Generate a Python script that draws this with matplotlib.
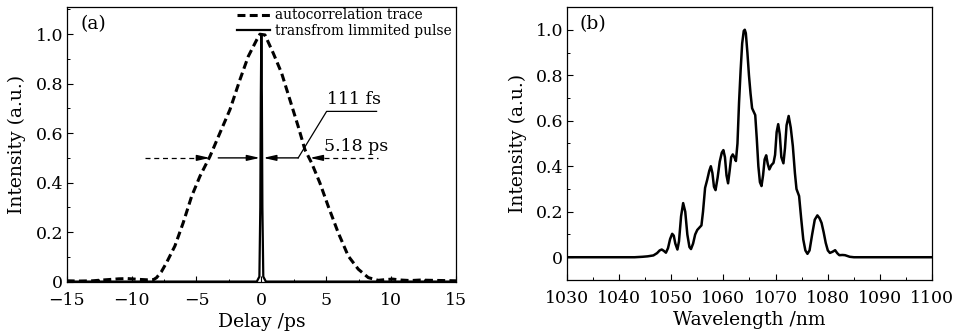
import matplotlib
matplotlib.use("Agg")
import matplotlib.pyplot as plt
from matplotlib.ticker import MultipleLocator

plt.rcParams['font.family'] = ['DejaVu Serif']

# ---- panel (a) data ----
delay = [-15, -14, -13, -12.3, -11.5, -11, -10.3, -9.5, -8.8, -8.3, -8.07, -7.7, -7.3,
         -6.66, -6.02, -5.37, -4.73, -3.96, -3.19, -2.42, -1.65, -1.01, -0.36, -0.11,
         0.28, 0.92, 1.56, 2.2, 2.84, 3.36, 3.87, 4.51, 5.15, 5.92, 6.7, 7.47, 8.24,
         9.0, 9.6, 10.1, 10.8, 11.5, 12.2, 13, 14, 15]
autocorr = [0.003, 0.002, 0.003, 0.006, 0.009, 0.011, 0.012, 0.009, 0.007, 0.008, 0.016,
            0.04, 0.077, 0.144, 0.238, 0.345, 0.426, 0.506, 0.601, 0.695, 0.816, 0.91,
            0.977, 1.0, 0.997, 0.923, 0.843, 0.735, 0.627, 0.533, 0.48, 0.399, 0.305,
            0.198, 0.103, 0.05, 0.016, 0.005, 0.008, 0.01, 0.006, 0.004, 0.006, 0.005,
            0.004, 0.003]
tl_delay = [-15, -0.6, -0.35, -0.25, -0.15, -0.08, -0.04, 0, 0.04, 0.08, 0.15, 0.25,
            0.35, 0.6, 15]
tl_pulse = [0, 0, 0.0, 0.01, 0.02, 0.3, 0.75, 1.0, 0.75, 0.3, 0.02, 0.01, 0.0, 0, 0]
half_max = 0.5
fwhm_ac_label = "5.18 ps"
fwhm_tl_label = "111 fs"
legend_labels = ["autocorrelation trace", "transfrom limmited pulse"]

# ---- panel (b) data ----
wavelength = [1030, 1043, 1044.5, 1045.5, 1046.6, 1047.3, 1047.8, 1048.2, 1048.6, 1049.0,
              1049.4, 1049.8, 1050.2, 1050.5, 1050.8, 1051.2, 1051.5, 1051.9, 1052.3,
              1052.7, 1053.1, 1053.5, 1053.8, 1054.2, 1054.6, 1055.0, 1055.4, 1055.8,
              1056.1, 1056.5, 1056.9, 1057.3, 1057.6, 1057.9, 1058.2, 1058.5, 1058.9,
              1059.3, 1059.7, 1060.0, 1060.3, 1060.6, 1060.9, 1061.2, 1061.5, 1061.8,
              1062.1, 1062.4, 1062.7, 1063.0, 1063.3, 1063.6, 1063.9, 1064.1, 1064.3,
              1064.6, 1064.9, 1065.2, 1065.5, 1065.8, 1066.1, 1066.4, 1066.7, 1067.0,
              1067.3, 1067.6, 1067.9, 1068.2, 1068.5, 1068.8, 1069.2, 1069.6, 1069.9,
              1070.2, 1070.5, 1070.8, 1071.1, 1071.5, 1071.8, 1072.1, 1072.5, 1072.9,
              1073.3, 1073.7, 1074.0, 1074.5, 1074.9, 1075.3, 1075.7, 1076.1, 1076.5,
              1077.0, 1077.5, 1078.0, 1078.4, 1078.8, 1079.2, 1079.6, 1080.0, 1080.4,
              1080.9, 1081.4, 1081.8, 1082.2, 1082.8, 1083.3, 1084.2, 1085, 1100]
spectrum = [0, 0, 0.002, 0.004, 0.008, 0.018, 0.03, 0.034, 0.028, 0.02,
            0.04, 0.08, 0.103, 0.095, 0.06, 0.034, 0.07, 0.18, 0.238,
            0.2, 0.1, 0.045, 0.036, 0.06, 0.1, 0.12, 0.13, 0.14,
            0.2, 0.305, 0.34, 0.38, 0.40, 0.37, 0.31, 0.295, 0.35,
            0.42, 0.46, 0.471, 0.44, 0.36, 0.325, 0.38, 0.44, 0.452,
            0.44, 0.423, 0.5, 0.68, 0.82, 0.94, 0.995, 1.0, 0.985,
            0.9, 0.8, 0.72, 0.655, 0.64, 0.625, 0.52, 0.4, 0.33,
            0.313, 0.36, 0.43, 0.448, 0.41, 0.386, 0.405, 0.415, 0.45,
            0.55, 0.585, 0.54, 0.44, 0.413, 0.48, 0.58, 0.621, 0.57,
            0.489, 0.37, 0.3, 0.269, 0.17, 0.078, 0.03, 0.015, 0.03,
            0.1, 0.165, 0.184, 0.172, 0.151, 0.11, 0.063, 0.03, 0.019,
            0.024, 0.031, 0.018, 0.009, 0.01, 0.009, 0.002, 0, 0]

fig = plt.figure(figsize=(9.61, 3.35), dpi=100)
axa = fig.add_axes([0.0694, 0.1573, 0.4051, 0.8218])
axb = fig.add_axes([0.5897, 0.1642, 0.3804, 0.8149])

FS = 12.5

def style(ax):
    ax.tick_params(which='both', direction='in', top=False, right=False,
                   labelsize=FS)
    ax.tick_params(axis='x', pad=7)
    ax.tick_params(axis='y', pad=2.5)
    ax.tick_params(which='major', length=4, width=0.8)
    ax.tick_params(which='minor', length=2.5, width=0.7)
    for s in ax.spines.values():
        s.set_linewidth(0.9)

# panel (a)
axa.plot(delay, autocorr, color='black', lw=2.2, ls=(0, (2.6, 1.4)),
         label=legend_labels[0])
axa.plot(tl_delay, tl_pulse, color='black', lw=1.6, label=legend_labels[1])
axa.set_xlim(-15, 15)
axa.set_ylim(-0.003, 1.11)
axa.xaxis.set_minor_locator(MultipleLocator(2.5))
axa.yaxis.set_minor_locator(MultipleLocator(0.1))
axa.set_yticks([0, 0.2, 0.4, 0.6, 0.8, 1.0])
axa.set_yticklabels(['0', '0.2', '0.4', '0.6', '0.8', '1.0'])
axa.set_xticks([-15, -10, -5, 0, 5, 10, 15])
axa.set_xticklabels(['\u221215', '\u221210', '\u22125', '0', '5', '10', '15'])
style(axa)
axa.set_xlabel('Delay /ps', fontsize=FS + 1, labelpad=3)
axa.set_ylabel('Intensity (a.u.)', fontsize=FS + 1, labelpad=7)
axa.text(0.035, 0.97, '(a)', transform=axa.transAxes, fontsize=FS + 1,
         va='top', ha='left')
leg = axa.legend(loc='upper right', bbox_to_anchor=(1.01, 1.025), frameon=False,
                 fontsize=9.9, handlelength=2.4, handletextpad=0.35, labelspacing=0.12,
                 borderaxespad=0.2)

# annotations on (a)
ap = dict(arrowstyle='-|>,head_length=0.75,head_width=0.17', color='black', lw=1.0,
          mutation_scale=10, shrinkA=0, shrinkB=0)
axa.plot([-8.96, -5.0], [half_max, half_max], color='black', lw=0.9, ls=(0, (4, 3)))
axa.annotate('', xy=(-3.96, half_max), xytext=(-5.0, half_max), arrowprops=ap)
axa.plot([4.8, 9.0], [half_max, half_max], color='black', lw=0.9, ls=(0, (4, 3)))
axa.annotate('', xy=(3.74, half_max), xytext=(4.8, half_max), arrowprops=ap)
axa.annotate('', xy=(-0.11, half_max), xytext=(-3.32, half_max), arrowprops=ap)
axa.annotate('', xy=(0.15, half_max), xytext=(2.84, half_max), arrowprops=ap)
axa.plot([2.84, 5.03, 8.88], [half_max, 0.688, 0.688], color='black', lw=0.9)
axa.text(5.03, 0.70, fwhm_tl_label, fontsize=FS, ha='left', va='bottom')
axa.text(4.82, 0.545, fwhm_ac_label, fontsize=FS, ha='left', va='center')

# panel (b)
axb.plot(wavelength, spectrum, color='black', lw=1.8, solid_joinstyle='round')
axb.set_xlim(1030, 1100)
axb.set_ylim(-0.1, 1.1)
axb.xaxis.set_major_locator(MultipleLocator(10))
axb.xaxis.set_minor_locator(MultipleLocator(5))
axb.set_yticks([0, 0.2, 0.4, 0.6, 0.8, 1.0])
axb.set_yticklabels(['0', '0.2', '0.4', '0.6', '0.8', '1.0'])
axb.yaxis.set_minor_locator(MultipleLocator(0.1))
style(axb)
axb.set_xlabel('Wavelength /nm', fontsize=FS + 1, labelpad=3)
axb.set_ylabel('Intensity (a.u.)', fontsize=FS + 1, labelpad=6)
axb.text(0.035, 0.97, '(b)', transform=axb.transAxes, fontsize=FS + 1,
         va='top', ha='left')

fig.savefig('out.png', dpi=100)
